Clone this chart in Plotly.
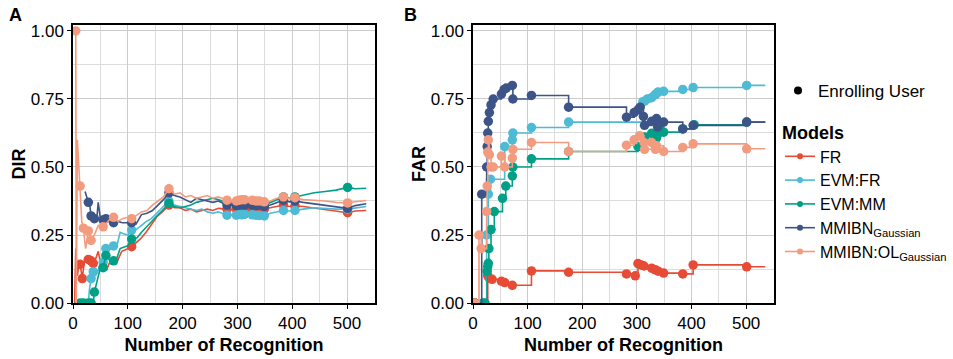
import plotly.graph_objects as go

FONT = "Liberation Sans, Arial, sans-serif"

MODELS = ["FR", "EVM:FR", "EVM:MM", "MMIBN<sub>Gaussian</sub>", "MMIBN:OL<sub>Gaussian</sub>"]
COLORS = ["#E64B35", "#4DBBD5", "#00A087", "#3C5488", "#F39B7F"]
X_TICKS = [0, 100, 200, 300, 400, 500]
Y_TICKS = [0, 0.25, 0.5, 0.75, 1.0]
Y_TICK_LABELS = ["0.00", "0.25", "0.50", "0.75", "1.00"]

# ---------------- Panel A: DIR ----------------
dir_fr_x = [3, 5, 8, 11, 13, 17, 21, 25, 28, 33, 37, 41, 46, 50, 55, 61, 66, 74, 79, 85, 89, 95, 100, 107, 117,
            125, 134, 143, 153, 163, 175, 185, 195, 205, 215, 225, 235, 245, 255, 265, 281, 290, 298, 303, 308,
            313, 320, 327, 334, 340, 349, 360, 372, 384, 395, 405, 420, 440, 460, 480, 501, 515, 535]
dir_fr_y = [0.0, 0.2, 0.1, 0.15, 0.142, 0.09, 0.16, 0.158, 0.16, 0.155, 0.146, 0.16, 0.19, 0.15, 0.14, 0.12,
            0.145, 0.148, 0.146, 0.17, 0.19, 0.195, 0.2, 0.207, 0.225, 0.24, 0.262, 0.29, 0.317, 0.335, 0.36,
            0.35, 0.35, 0.34, 0.345, 0.335, 0.34, 0.345, 0.34, 0.348, 0.345, 0.343, 0.345, 0.346, 0.345, 0.348,
            0.347, 0.345, 0.348, 0.347, 0.345, 0.35, 0.355, 0.36, 0.355, 0.357, 0.355, 0.35, 0.345, 0.34, 0.332,
            0.338, 0.34]
dir_fr_enroll = [13, 17, 28, 33, 37, 107, 175, 281, 298, 303, 308, 313, 327, 334, 340, 349, 384, 405, 501]

dir_evmfr_x = [3, 28, 30, 33, 37, 41, 46, 50, 55, 60, 66, 74, 80, 86, 92, 100, 107, 115, 125, 134, 143, 153,
               163, 175, 185, 195, 205, 215, 225, 235, 245, 255, 265, 281, 290, 298, 303, 308, 313, 320, 327,
               334, 340, 349, 360, 372, 384, 395, 405, 420, 440, 460, 480, 501, 515, 535]
dir_evmfr_y = [0.0, 0.0, 0.05, 0.09, 0.115, 0.1, 0.12, 0.15, 0.15, 0.2, 0.195, 0.21, 0.21, 0.26, 0.255, 0.25,
               0.268, 0.27, 0.285, 0.30, 0.31, 0.33, 0.35, 0.375, 0.36, 0.355, 0.35, 0.345, 0.34, 0.345, 0.335,
               0.33, 0.335, 0.323, 0.322, 0.323, 0.325, 0.324, 0.326, 0.325, 0.324, 0.323, 0.322, 0.32, 0.33,
               0.335, 0.34, 0.338, 0.34, 0.345, 0.35, 0.347, 0.345, 0.345, 0.35, 0.355]
dir_evmfr_enroll = [33, 37, 55, 60, 74, 107, 175, 281, 298, 303, 308, 313, 327, 334, 340, 349, 384, 405, 501]

dir_evmmm_x = [3, 13, 19, 28, 33, 37, 39, 46, 50, 55, 60, 66, 74, 80, 86, 92, 100, 107, 117, 125, 134, 143,
               153, 163, 175, 185, 195, 205, 215, 225, 235, 245, 255, 265, 281, 290, 298, 303, 308, 313, 320,
               327, 334, 340, 349, 360, 372, 384, 395, 405, 420, 440, 460, 480, 501, 515, 535]
dir_evmmm_y = [0.0, 0.0, 0.0, 0.0, 0.0, 0.0, 0.04, 0.1, 0.13, 0.13, 0.175, 0.16, 0.155, 0.165, 0.2, 0.205, 0.21,
               0.235, 0.24, 0.26, 0.28, 0.30, 0.32, 0.34, 0.366, 0.355, 0.35, 0.355, 0.36, 0.37, 0.375, 0.38,
               0.385, 0.38, 0.37, 0.362, 0.36, 0.362, 0.365, 0.36, 0.362, 0.365, 0.36, 0.362, 0.36, 0.37, 0.38,
               0.39, 0.385, 0.39, 0.395, 0.405, 0.41, 0.415, 0.425, 0.42, 0.422]
dir_evmmm_enroll = [13, 19, 28, 33, 39, 55, 60, 74, 107, 175, 281, 298, 303, 308, 313, 327, 334, 340, 349, 384,
                    405, 501]

dir_mmibn_x = [22, 28, 30, 33, 39, 43, 46, 50, 55, 60, 66, 74, 82, 90, 100, 107, 115, 125, 135, 145, 155, 165,
               175, 185, 195, 205, 215, 225, 235, 245, 255, 265, 281, 290, 298, 303, 308, 313, 320, 327, 334,
               340, 349, 360, 372, 384, 395, 405, 420, 440, 460, 480, 501, 515, 535]
dir_mmibn_y = [0.41, 0.37, 0.37, 0.32, 0.31, 0.30, 0.37, 0.31, 0.305, 0.31, 0.30, 0.295, 0.30, 0.295, 0.295,
               0.295, 0.29, 0.325, 0.33, 0.34, 0.36, 0.38, 0.405, 0.395, 0.39, 0.38, 0.37, 0.385, 0.38, 0.375,
               0.37, 0.375, 0.36, 0.36, 0.358, 0.36, 0.362, 0.36, 0.362, 0.36, 0.358, 0.36, 0.355, 0.36, 0.37,
               0.378, 0.372, 0.375, 0.37, 0.365, 0.36, 0.355, 0.348, 0.358, 0.365]
dir_mmibn_enroll = [28, 33, 39, 55, 60, 74, 107, 175, 281, 298, 303, 308, 313, 327, 334, 340, 349, 384, 405, 501]

dir_ol_x = [5, 6, 8, 13, 16, 19, 23, 28, 33, 39, 46, 55, 60, 66, 74, 82, 90, 100, 107, 115, 125, 135, 145, 155,
            165, 175, 185, 195, 205, 215, 225, 235, 245, 255, 265, 281, 290, 298, 303, 308, 313, 320, 327, 334,
            340, 349, 360, 372, 384, 395, 405, 420, 440, 460, 480, 501, 515, 535]
dir_ol_y = [1.0, 0.0, 0.60, 0.43, 0.30, 0.275, 0.20, 0.265, 0.23, 0.25, 0.285, 0.28, 0.29, 0.305, 0.315, 0.30,
            0.31, 0.315, 0.31, 0.32, 0.335, 0.34, 0.36, 0.375, 0.39, 0.42, 0.40, 0.405, 0.39, 0.395, 0.385, 0.39,
            0.395, 0.385, 0.39, 0.378, 0.375, 0.375, 0.378, 0.38, 0.38, 0.377, 0.378, 0.375, 0.375, 0.372, 0.375,
            0.385, 0.39, 0.383, 0.387, 0.38, 0.378, 0.375, 0.37, 0.368, 0.372, 0.377]
dir_ol_enroll = [5, 13, 19, 28, 33, 55, 74, 107, 175, 281, 298, 303, 308, 313, 327, 334, 340, 349, 384, 405, 501]

# ---------------- Panel B: FAR (step) ----------------
far_fr_x = [3, 27, 30, 35, 52, 58, 72, 107, 175, 281, 297, 302, 308, 313, 327, 334, 339, 349, 384, 403, 501, 535]
far_fr_y = [0, 0.10, 0.091, 0.087, 0.08, 0.075, 0.065, 0.118, 0.113, 0.107, 0.10, 0.145, 0.14, 0.136, 0.128,
            0.122, 0.117, 0.11, 0.107, 0.14, 0.133, 0.133]

far_evmfr_x = [3, 25, 28, 32, 58, 72, 73, 107, 175, 311, 314, 319, 327, 333, 336, 339, 349, 384, 403, 501, 535]
far_evmfr_y = [0, 0.25, 0.40, 0.455, 0.575, 0.60, 0.625, 0.645, 0.665, 0.74, 0.742, 0.75, 0.755, 0.765, 0.77,
               0.776, 0.778, 0.785, 0.792, 0.80, 0.80]

far_evmmm_x = [3, 18, 22, 26, 27, 28, 29, 33, 39, 54, 60, 72, 73, 107, 175, 302, 314, 327, 336, 338, 349, 384,
               405, 501, 535]
far_evmmm_y = [0, 0, 0, 0.116, 0.134, 0.146, 0.20, 0.27, 0.336, 0.385, 0.43, 0.467, 0.50, 0.53, 0.557, 0.575,
               0.61, 0.624, 0.607, 0.62, 0.628, 0.64, 0.655, 0.665, 0.665]

far_mmibn_x = [3, 16, 25, 26, 27, 28, 30, 33, 37, 52, 57, 61, 72, 73, 107, 175, 281, 295, 302, 306, 312, 314,
               327, 336, 338, 349, 384, 403, 501, 535]
far_mmibn_y = [0, 0.40, 0.50, 0.575, 0.625, 0.668, 0.70, 0.728, 0.75, 0.768, 0.785, 0.79, 0.80, 0.75, 0.763,
               0.72, 0.683, 0.70, 0.71, 0.72, 0.686, 0.653, 0.668, 0.678, 0.647, 0.665, 0.64, 0.653, 0.665, 0.665]

far_ol_x = [3, 11, 15, 25, 26, 27, 28, 30, 33, 37, 52, 58, 72, 73, 107, 175, 281, 295, 305, 313, 314, 327, 334,
            336, 349, 384, 403, 501, 535]
far_ol_y = [0, 0.25, 0.20, 0.336, 0.43, 0.555, 0.60, 0.545, 0.50, 0.50, 0.54, 0.50, 0.533, 0.565, 0.59, 0.557,
            0.58, 0.60, 0.615, 0.59, 0.565, 0.59, 0.565, 0.578, 0.557, 0.572, 0.585, 0.567, 0.567]

DIR_SERIES = [(dir_fr_x, dir_fr_y, dir_fr_enroll), (dir_evmfr_x, dir_evmfr_y, dir_evmfr_enroll),
              (dir_evmmm_x, dir_evmmm_y, dir_evmmm_enroll), (dir_mmibn_x, dir_mmibn_y, dir_mmibn_enroll),
              (dir_ol_x, dir_ol_y, dir_ol_enroll)]
FAR_SERIES = [(far_fr_x, far_fr_y), (far_evmfr_x, far_evmfr_y), (far_evmmm_x, far_evmmm_y),
              (far_mmibn_x, far_mmibn_y), (far_ol_x, far_ol_y)]

MS = 9.5
LW = 1.6

fig = go.Figure()

# Panel A
for (xs, ys, enr), col in zip(DIR_SERIES, COLORS):
    fig.add_trace(go.Scatter(x=xs, y=ys, mode="lines", line=dict(color=col, width=LW),
                             xaxis="x", yaxis="y", showlegend=False, hoverinfo="skip"))
    mx = [a for a in xs if a in enr]
    my = [b for a, b in zip(xs, ys) if a in enr]
    fig.add_trace(go.Scatter(x=mx, y=my, mode="markers", marker=dict(color=col, size=MS),
                             xaxis="x", yaxis="y", showlegend=False))

# Panel B
for (xs, ys), col in zip(FAR_SERIES, COLORS):
    fig.add_trace(go.Scatter(x=xs, y=ys, mode="lines", line=dict(color=col, width=LW, shape="hv"),
                             xaxis="x2", yaxis="y2", showlegend=False, hoverinfo="skip"))
    fig.add_trace(go.Scatter(x=xs[:-1], y=ys[:-1], mode="markers", marker=dict(color=col, size=MS),
                             xaxis="x2", yaxis="y2", showlegend=False))

# Legends
fig.add_trace(go.Scatter(x=[None], y=[None], mode="markers", name="Enrolling User",
                         marker=dict(color="black", size=8), legend="legend", xaxis="x2", yaxis="y2"))
for name, col in zip(MODELS, COLORS):
    fig.add_trace(go.Scatter(x=[None], y=[None], mode="lines+markers", name=name,
                             line=dict(color=col, width=LW), marker=dict(color=col, size=6),
                             legend="legend2", xaxis="x2", yaxis="y2"))

YTOP = 1.022
XMAX = 551
DOM_Y = [56 / 359, 334 / 359]
TICK_SIZE = 17
TITLE_SIZE = 18

def xaxis_cfg(dom):
    return dict(domain=dom, range=[0, XMAX], tickvals=X_TICKS, ticks="outside", ticklen=4,
                tickcolor="black", tickwidth=1, showline=True, linecolor="black", linewidth=1.5,
                mirror=True, showgrid=True, gridcolor="#cccccc", gridwidth=1.1, automargin=False,
                minor=dict(dtick=50, showgrid=True, gridcolor="#dcdcdc", gridwidth=0.8),
                zeroline=False, tickfont=dict(size=TICK_SIZE, color="black", family=FONT),
                title=dict(text="<b>Number of Recognition</b>",
                           font=dict(size=TITLE_SIZE, color="black", family=FONT), standoff=6))

def yaxis_cfg(anchor, title):
    return dict(domain=DOM_Y, range=[0, YTOP], tickvals=Y_TICKS, ticktext=Y_TICK_LABELS, anchor=anchor,
                ticks="outside", ticklen=4, tickcolor="black", tickwidth=1, showline=True, automargin=False,
                linecolor="black", linewidth=1.5, mirror=True, showgrid=True, gridcolor="#cccccc",
                gridwidth=1.1, minor=dict(dtick=0.125, showgrid=True, gridcolor="#dcdcdc", gridwidth=0.8),
                zeroline=False, tickfont=dict(size=TICK_SIZE, color="black", family=FONT),
                title=dict(text="<b>" + title + "</b>", font=dict(size=TITLE_SIZE, color="black", family=FONT),
                           standoff=0))

fig.update_layout(
    width=953, height=359, margin=dict(l=0, r=0, t=0, b=0),
    paper_bgcolor="white", plot_bgcolor="white",
    font=dict(family=FONT, color="black"),
    xaxis=dict(**xaxis_cfg([73 / 953, 375 / 953]), anchor="y"),
    yaxis=yaxis_cfg("x", "DIR"),
    xaxis2=dict(**xaxis_cfg([473 / 953, 774 / 953]), anchor="y2"),
    yaxis2=yaxis_cfg("x2", "FAR"),
    legend=dict(x=778 / 953, y=1 - 91 / 359, xanchor="left", yanchor="middle", font=dict(size=17),
                itemwidth=30, bgcolor="rgba(0,0,0,0)", tracegroupgap=0),
    legend2=dict(x=780 / 953, y=1 - 116 / 359, xanchor="left", yanchor="top", font=dict(size=16),
                 itemwidth=30, bgcolor="rgba(0,0,0,0)", tracegroupgap=0,
                 title=dict(text="<b>Models</b>", font=dict(size=18))),
    annotations=[
        dict(text="<b>A</b>", x=7 / 953, y=1 - 3 / 359, xref="paper", yref="paper", xanchor="left",
             yanchor="top", showarrow=False, font=dict(size=18, family=FONT)),
        dict(text="<b>B</b>", x=402 / 953, y=1 - 3 / 359, xref="paper", yref="paper", xanchor="left",
             yanchor="top", showarrow=False, font=dict(size=18, family=FONT)),
    ],
)

fig.write_html("out.html")
